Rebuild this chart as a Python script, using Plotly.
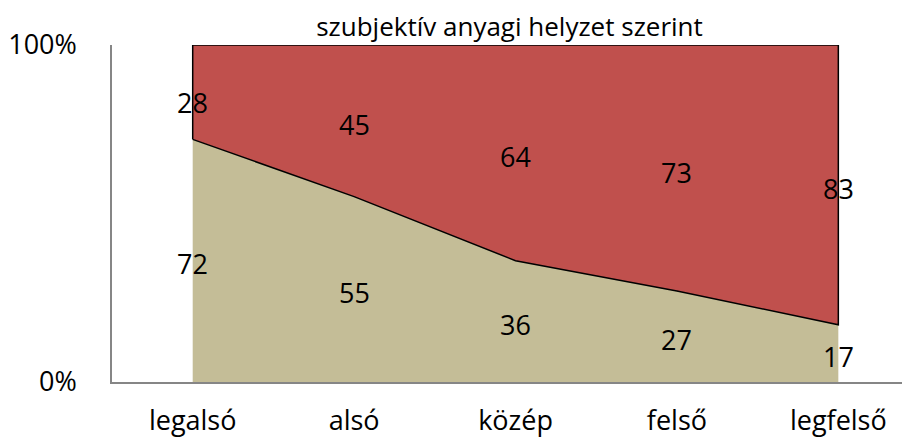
import plotly.graph_objects as go

categories = ["legalsó", "alsó", "közép", "felső", "legfelső"]
lower_values = [72, 55, 36, 27, 17]
upper_values = [28, 45, 64, 73, 83]
title_text = "szubjektív anyagi helyzet szerint"
ytick_vals = [0, 100]
ytick_text = ["0%", "100%"]

FONT = "Open Sans"
FS = 27
x = list(range(len(categories)))
totals = [a + b for a, b in zip(lower_values, upper_values)]
lower_pct = [a / t * 100 for a, t in zip(lower_values, totals)]
top_pct = [100.0 for _ in totals]

fig = go.Figure()
fig.add_trace(go.Scatter(x=x, y=lower_pct, mode="lines", line=dict(width=0, color="#C4BD97"),
                         fill="tozeroy", fillcolor="#C4BD97", hoverinfo="skip", showlegend=False))
fig.add_trace(go.Scatter(x=x, y=top_pct, mode="lines", line=dict(width=0, color="#C0504D"),
                         fill="tonexty", fillcolor="#C0504D", hoverinfo="skip", showlegend=False))
# outline of the upper series polygon
ox = x + [x[-1], x[0], x[0]]
oy = lower_pct + [100, 100, lower_pct[0]]
fig.add_trace(go.Scatter(x=ox, y=oy, mode="lines", line=dict(width=1.5, color="black"),
                         hoverinfo="skip", showlegend=False))

anns = []
for i, (lo, up) in enumerate(zip(lower_values, upper_values)):
    lp = lower_pct[i]
    anns.append(dict(x=i, y=lp / 2, text=str(lo), showarrow=False, yshift=-3,
                     font=dict(family=FONT, size=FS, color="black")))
    anns.append(dict(x=i, y=lp + (100 - lp) / 2, text=str(up), showarrow=False,
                     yshift=-10 if i == 0 else -4,
                     font=dict(family=FONT, size=FS, color="black")))

# page body has an 8px margin: compensate so the plot sits where the reference has it
fig.update_layout(
    width=902, height=431,
    margin=dict(l=101, r=0, t=37, b=57),
    paper_bgcolor="white", plot_bgcolor="white",
    font=dict(family=FONT, size=FS, color="black"),
    title=dict(text=title_text, x=0.556, xanchor="center", y=1 - 19 / 431, yanchor="middle",
               font=dict(family=FONT, size=26, color="black")),
    annotations=anns,
    xaxis=dict(range=[-0.5, 4.444], tickvals=x, ticktext=categories, showgrid=False,
               zeroline=False, showline=True, linecolor="#868686", linewidth=1.5,
               ticks="", ticklabelstandoff=14, fixedrange=True),
    yaxis=dict(range=[0, 100], tickvals=ytick_vals, ticktext=ytick_text, showgrid=False,
               zeroline=False, showline=True, linecolor="#868686", linewidth=1.5,
               ticks="", ticklabelstandoff=28, fixedrange=True),
)

fig.write_html("out.html")
